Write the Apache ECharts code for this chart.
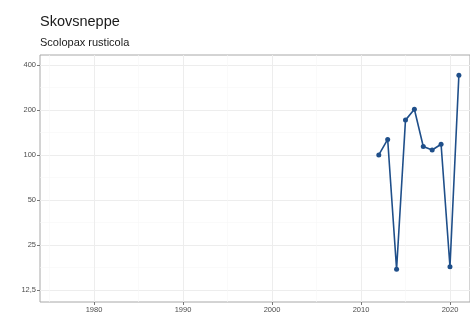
<!DOCTYPE html>
<html>
<head>
<meta charset="utf-8">
<script src="https://cdn.jsdelivr.net/npm/echarts@6/dist/echarts.min.js"></script>
<style>html,body{margin:0;padding:0;background:#fff}#c{width:470px;height:315px}</style>
</head>
<body>
<div id="c"></div>
<script>
const titleText = 'Skovsneppe';
const subtitleText = 'Scolopax rusticola';
const years = [2012, 2013, 2014, 2015, 2016, 2017, 2018, 2019, 2020, 2021];
const counts = [100, 127, 17.2, 171, 202, 114, 108, 118, 17.9, 341];
const yTicks = [12.5, 25, 50, 100, 200, 400];
const yTickLabels = ['12,5', '25', '50', '100', '200', '400'];
const yMinorTicks = [17.68, 35.36, 70.71, 141.42, 282.84];
const xTicks = [1980, 1990, 2000, 2010, 2020];
const xTickLabels = ['1980', '1990', '2000', '2010', '2020'];
const xMinorTicks = [1975, 1985, 1995, 2005, 2015];

const L = v => Math.log2(v);
const yMin = L(10.4), yMax = L(466);
const xMin = 1973.93, xMax = 2022.25;
const font = 'Liberation Sans, Arial, sans-serif';

function nearestLabel(v, ticks, labels, f) {
  let best = 0;
  ticks.forEach((t, i) => { if (Math.abs(f(t) - v) < Math.abs(f(ticks[best]) - v)) best = i; });
  return labels[best];
}

const chart = echarts.init(document.getElementById('c'), null, {renderer: 'canvas'});
chart.setOption({
  animation: false,
  backgroundColor: '#ffffff',
  title: [
    {text: titleText, left: 40, top: 14, padding: 0,
     textStyle: {fontFamily: font, fontSize: 14.5, fontWeight: 'normal', color: '#1a1a1a'}},
    {text: subtitleText, left: 40, top: 37, padding: 0,
     textStyle: {fontFamily: font, fontSize: 11, fontWeight: 'normal', color: '#1a1a1a'}}
  ],
  grid: {left: 40, right: 0, top: 55, bottom: 13, show: true, borderColor: '#a8a8a8', borderWidth: 1, containLabel: false},
  xAxis: [
    {type: 'value', min: xMin, max: xMax,
     axisLine: {show: false},
     axisTick: {show: true, length: 3, customValues: xTicks, lineStyle: {color: '#777'}},
     axisLabel: {show: true, customValues: xTicks, margin: 4, fontFamily: font, fontSize: 7.5, color: '#4d4d4d',
       formatter: v => nearestLabel(v, xTicks, xTickLabels, t => t)},
     splitLine: {show: true, lineStyle: {color: '#ededed', width: 1}}},
    {type: 'value', min: xMin, max: xMax, position: 'top',
     axisLine: {show: false},
     axisTick: {show: false, customValues: xMinorTicks},
     axisLabel: {show: false, customValues: xMinorTicks},
     splitLine: {show: true, lineStyle: {color: '#f6f6f6', width: 0.6}}}
  ],
  yAxis: [
    {type: 'value', min: yMin, max: yMax,
     axisLine: {show: false},
     axisTick: {show: true, length: 3, customValues: yTicks.map(L), lineStyle: {color: '#777'}},
     axisLabel: {show: true, customValues: yTicks.map(L), margin: 4, fontFamily: font, fontSize: 7.5, color: '#4d4d4d',
       formatter: v => nearestLabel(v, yTicks, yTickLabels, L)},
     splitLine: {show: true, lineStyle: {color: '#ededed', width: 1}}},
    {type: 'value', min: yMin, max: yMax, position: 'right',
     axisLine: {show: false},
     axisTick: {show: false, customValues: yMinorTicks.map(L)},
     axisLabel: {show: false, customValues: yMinorTicks.map(L)},
     splitLine: {show: true, lineStyle: {color: '#f6f6f6', width: 0.6}}}
  ],
  series: [{
    type: 'line',
    xAxisIndex: 0, yAxisIndex: 0,
    data: years.map((y, i) => [y, L(counts[i])]),
    symbol: 'circle', symbolSize: 5,
    lineStyle: {color: '#1f4f8a', width: 1.6},
    itemStyle: {color: '#1f4f8a'},
    z: 5
  }]
});
</script>
</body>
</html>
